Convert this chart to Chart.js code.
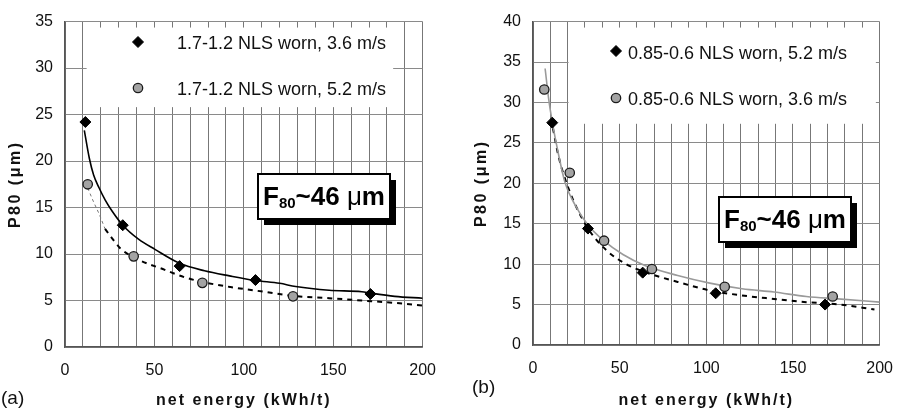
<!DOCTYPE html>
<html><head><meta charset="utf-8">
<script src="https://cdn.jsdelivr.net/npm/chart.js@4.4.1/dist/chart.umd.min.js"></script>
<style>
html,body{margin:0;padding:0;background:#fff;}
#wrap{position:relative;width:907px;height:411px;overflow:hidden;background:#fff;}
#ca{position:absolute;left:0;top:0;}
#cb{position:absolute;left:450px;top:0;}
</style></head><body>
<div id="wrap"><canvas id="ca" width="450" height="411"></canvas><canvas id="cb" width="457" height="411"></canvas></div>
<script>
// ---------- data: panel (a) ----------
const a_label36 = '1.7-1.2 NLS worn, 3.6 m/s';
const a_label52 = '1.7-1.2 NLS worn, 5.2 m/s';
const a_x36 = [11.4, 32.3, 64.1, 106.5, 170.8];
const a_y36 = [24.2, 13.1, 8.7, 7.2, 5.7];
const a_x52 = [12.7, 38.4, 76.8, 127.5];
const a_y52 = [17.5, 9.75, 6.9, 5.45];
const a_fit36x = [10.8, 13.6, 16, 19.1, 22.5, 26.4, 32.3, 41.1, 50.3, 64.1, 78, 92, 106.5, 120, 129, 147.7, 166, 170.8, 184.4, 200];
const a_fit36y = [23.3, 20.3, 18.5, 17.1, 15.8, 14.6, 13.1, 11.6, 10.5, 9.0, 8.2, 7.65, 7.15, 6.85, 6.5, 6.1, 5.95, 5.8, 5.45, 5.25];
const a_fit52x = [22.4, 25.5, 31, 41, 55.8, 66.9, 76.8, 92.6, 111, 127.5, 147.7, 166, 184, 200];
const a_fit52y = [12.7, 11.9, 10.6, 9.4, 8.3, 7.5, 7.0, 6.45, 5.95, 5.5, 5.25, 5.0, 4.75, 4.45];
const a_fit52startX = [12.7, 16, 19.1, 22.4];
const a_fit52startY = [17.1, 15.6, 14.3, 12.7];
// ---------- data: panel (b) ----------
const b_label52 = '0.85-0.6 NLS worn, 5.2 m/s';
const b_label36 = '0.85-0.6 NLS worn, 3.6 m/s';
const b_x52 = [11.1, 31.7, 63.3, 105.4, 168.5];
const b_y52 = [27.5, 14.4, 8.95, 6.4, 5.0];
const b_x36 = [6.5, 21.2, 41.0, 68.6, 110.6, 172.9];
const b_y36 = [31.6, 21.3, 12.9, 9.4, 7.2, 6.0];
const b_fit36x = [7, 9, 11.1, 14.8, 18.6, 24.1, 31.5, 40.8, 51.9, 64.9, 83.5, 102, 120.6, 139, 157.7, 176, 200];
const b_fit36y = [34.2, 30.5, 27.6, 23.5, 20.0, 17.4, 14.9, 12.9, 11.2, 9.8, 8.6, 7.65, 6.95, 6.55, 6.0, 5.7, 5.3];
const b_fit52x = [11.5, 14.8, 20.4, 31.5, 42.7, 53.8, 64.9, 83.5, 102, 120.6, 139, 157.7, 176, 197];
const b_fit52y = [26.8, 23.3, 19.4, 14.5, 11.65, 10.0, 9.0, 7.8, 6.75, 6.13, 5.7, 5.3, 5.03, 4.4];
// ---------- axes ----------
const xMin = 0, xMax = 200, xGridStep = 10, xLabelStep = 50;
const a_yMax = 35, b_yMax = 40, yStep = 5;
const xTitle = 'net energy (kWh/t)';
const yTitle = 'P80 (\u03bcm)';
const annotText = ['F', '80', '~46 ', '\u03bc', 'm'];

const pts = (xs, ys) => xs.map((x, i) => ({x, y: ys[i]}));
const SANS = '"Liberation Sans", Arial, sans-serif';

class SpacedLinear extends Chart.LinearScale {
  drawTitle(...args) {
    const ctx = this.ctx;
    ctx.save();
    ctx.letterSpacing = (this.options.title.letterSpacing || 0) + 'px';
    super.drawTitle(...args);
    ctx.restore();
  }
}
SpacedLinear.id = 'spacedLinear';
SpacedLinear.defaults = Chart.LinearScale.defaults;
Chart.register(SpacedLinear);

const decor = {
  id: 'decor',
  beforeDatasetsDraw(chart, args, o) {
    const ctx = chart.ctx, sx = chart.scales.x, sy = chart.scales.y;
    ctx.save();
    const L = o.legendBox;
    const x0 = sx.getPixelForValue(L[0]), x1 = sx.getPixelForValue(L[1]);
    const y0 = sy.getPixelForValue(L[2]), y1 = sy.getPixelForValue(L[3]);
    ctx.fillStyle = '#fff';
    ctx.fillRect(x0, y0, x1 - x0, y1 - y0);
    const E = o.entries;
    for (let i = 0; i < E.length; i++) {
      const e = E[i];
      const ds = chart.data.datasets[e[0]];
      ctx.save();
      ctx.fillStyle = ds.backgroundColor; ctx.strokeStyle = ds.borderColor;
      ctx.lineWidth = ds.borderWidth || 1;
      Chart.helpers.drawPoint(ctx, {pointStyle: ds.pointStyle, radius: ds.pointRadius, rotation: 0, borderWidth: ds.borderWidth || 1}, e[1], e[2]);
      ctx.restore();
      ctx.fillStyle = '#111';
      ctx.font = '18px ' + SANS;
      ctx.textBaseline = 'middle'; ctx.textAlign = 'left';
      ctx.fillText(ds.label, e[3], e[4]);
    }
    ctx.restore();
  },
  afterDatasetsDraw(chart, args, o) {
    const ctx = chart.ctx;
    ctx.save();
    const A = o.annot;
    const bx = A[0], by = A[1], bw = A[2], bh = A[3];
    ctx.fillStyle = '#000';
    ctx.fillRect(bx + 6, by + 6, bw, bh);
    ctx.fillStyle = '#fff';
    ctx.fillRect(bx, by, bw, bh);
    ctx.strokeStyle = '#000'; ctx.lineWidth = 2;
    ctx.strokeRect(bx, by, bw, bh);
    let x = bx + 5; const base = by + 31;
    const fonts = ['bold 26px ' + SANS, 'bold 15px ' + SANS, 'bold 26px ' + SANS, '26px ' + SANS, 'bold 26px ' + SANS];
    const dy = [0, 3, 0, 0, 0];
    ctx.fillStyle = '#000'; ctx.textBaseline = 'alphabetic'; ctx.textAlign = 'left';
    annotText.forEach((t, i) => {
      ctx.font = fonts[i];
      ctx.fillText(t, x, base + dy[i]);
      x += ctx.measureText(t).width;
    });
    ctx.font = '19px ' + SANS; ctx.textBaseline = 'middle';
    ctx.fillStyle = '#111';
    ctx.fillText(o.panel, o.panelX, o.panelY);
    ctx.restore();
  }
};

function makeScales(yMax, yWidth, xHeight, yTitlePad) {
  return {
    x: {
      type: 'spacedLinear', min: xMin, max: xMax,
      ticks: {stepSize: xGridStep, autoSkip: false, maxRotation: 0,
        callback: v => (v % xLabelStep === 0 ? String(v) : ''),
        font: {family: SANS, size: 16}, color: '#111', padding: 14},
      grid: {color: '#777', lineWidth: 1, drawTicks: false},
      border: {color: '#555', width: 1.5},
      title: {display: true, text: xTitle, color: '#111', letterSpacing: 2,
        font: {family: SANS, size: 16, weight: 'bold'}, padding: {top: 0, bottom: 1}},
      afterFit: s => { s.height = xHeight; }
    },
    y: {
      type: 'spacedLinear', min: 0, max: yMax,
      ticks: {stepSize: yStep, autoSkip: false, font: {family: SANS, size: 16}, color: '#111', padding: 12},
      grid: {color: '#8a8a8a', lineWidth: 1, drawTicks: false},
      border: {color: '#555', width: 1.5},
      title: {display: true, text: yTitle, color: '#111', letterSpacing: 2.5,
        font: {family: SANS, size: 16, weight: 'bold'}, padding: {top: yTitlePad, bottom: 0}},
      afterFit: s => { s.width = yWidth; }
    }
  };
}

const diamond = (label, data) => ({label, data, type: 'scatter', showLine: false, pointStyle: 'rectRot',
  pointRadius: 5.5, backgroundColor: '#000', borderColor: '#000', borderWidth: 1, order: 0});
const circle = (label, data) => ({label, data, type: 'scatter', showLine: false, pointStyle: 'circle',
  pointRadius: 4.7, backgroundColor: '#a3a3a3', borderColor: '#1a1a1a', borderWidth: 1.3, order: 0});
const line = (data, color, width, dash) => ({label: '', data, type: 'scatter', showLine: true, pointRadius: 0,
  borderColor: color, backgroundColor: color, borderWidth: width, borderDash: dash || [],
  cubicInterpolationMode: 'monotone', order: 1});

new Chart(document.getElementById('ca'), {
  type: 'scatter',
  data: {datasets: [
    diamond(a_label36, pts(a_x36, a_y36)),
    circle(a_label52, pts(a_x52, a_y52)),
    line(pts(a_fit36x, a_fit36y), '#000', 1.6),
    line(pts(a_fit52x, a_fit52y), '#000', 2, [5, 5]),
    line(pts(a_fit52startX, a_fit52startY), '#777', 1, [3, 3])
  ]},
  options: {
    responsive: false, animation: false, devicePixelRatio: 1,
    layout: {padding: {top: 19, right: 22, left: 0, bottom: 0}},
    scales: makeScales(a_yMax, 65, 64, 6),
    plugins: {legend: {display: false}, tooltip: {enabled: false},
      decor: {legendBox: [12.1, 183.5, 34.36, 25.8],
        entries: [[0, 138, 42, 177, 44], [1, 138, 88, 177, 90]],
        annot: [258, 174, 132, 45], panel: '(a)', panelX: 1, panelY: 399}}
  },
  plugins: [decor]
});

new Chart(document.getElementById('cb'), {
  type: 'scatter',
  data: {datasets: [
    diamond(b_label52, pts(b_x52, b_y52)),
    circle(b_label36, pts(b_x36, b_y36)),
    line(pts(b_fit36x, b_fit36y), '#9a9a9a', 1.6),
    line(pts(b_fit52x, b_fit52y), '#000', 2, [5, 5])
  ]},
  options: {
    responsive: false, animation: false, devicePixelRatio: 1,
    layout: {padding: {top: 19, right: 14, left: 0, bottom: 0}},
    scales: makeScales(b_yMax, 83, 66, 22),
    plugins: {legend: {display: false}, tooltip: {enabled: false},
      decor: {legendBox: [20.5, 197.8, 39.26, 27.36],
        entries: [[0, 166, 51, 178, 54], [1, 166, 98, 178, 100]],
        annot: [269, 197, 132, 45], panel: '(b)', panelX: 22, panelY: 388}}
  },
  plugins: [decor]
});
</script>
</body></html>
